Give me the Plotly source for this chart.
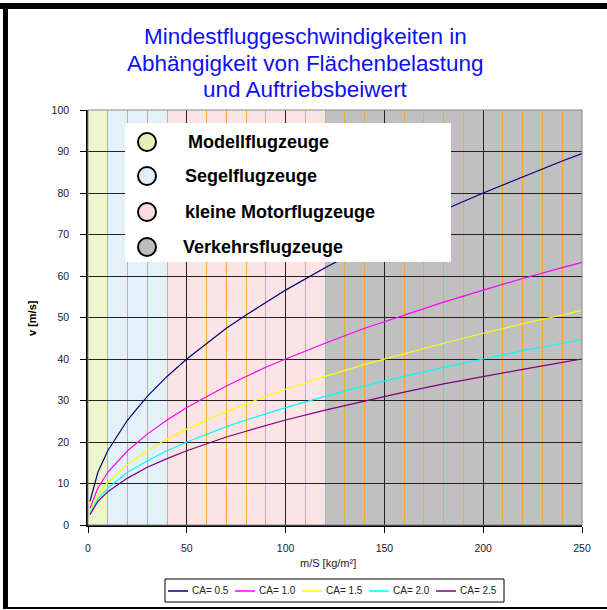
import plotly.graph_objects as go

# ---------------- data ----------------
x_ms = [1, 5, 10, 20, 30, 40, 50, 60, 70, 80, 90, 100, 120, 140, 160, 180, 200, 220, 240, 250]
v_ca05 = [5.7, 12.7, 17.9, 25.3, 31.0, 35.8, 40.0, 43.8, 47.4, 50.6, 53.7, 56.6, 62.0, 67.0, 71.6, 75.9, 80.0, 83.9, 87.7, 89.5]
v_ca10 = [4.0, 8.9, 12.7, 17.9, 21.9, 25.3, 28.3, 31.0, 33.5, 35.8, 38.0, 40.0, 43.8, 47.4, 50.6, 53.7, 56.6, 59.4, 62.0, 63.3]
v_ca15 = [3.3, 7.3, 10.3, 14.6, 17.9, 20.7, 23.1, 25.3, 27.3, 29.2, 31.0, 32.7, 35.8, 38.7, 41.3, 43.8, 46.2, 48.5, 50.6, 51.7]
v_ca20 = [2.8, 6.3, 8.9, 12.7, 15.5, 17.9, 20.0, 21.9, 23.7, 25.3, 26.8, 28.3, 31.0, 33.5, 35.8, 38.0, 40.0, 42.0, 43.8, 44.7]
v_ca25 = [2.5, 5.7, 8.0, 11.3, 13.9, 16.0, 17.9, 19.6, 21.2, 22.6, 24.0, 25.3, 27.7, 29.9, 32.0, 34.0, 35.8, 37.5, 39.2, 40.0]

series_names = ["CA= 0.5", "CA= 1.0", "CA= 1.5", "CA= 2.0", "CA= 2.5"]
series_values = [v_ca05, v_ca10, v_ca15, v_ca20, v_ca25]
series_colors = ["#000080", "#ff00ff", "#ffff00", "#00ffff", "#800080"]

band_names = ["Modellflugzeuge", "Segelflugzeuge", "kleine Motorflugzeuge", "Verkehrsflugzeuge"]
band_start = [0, 10, 40, 120]
band_end = [10, 40, 120, 250]
band_colors = ["#ebf6cc", "#e5f1fa", "#fbe4e4", "#c0c0c0"]
band_marker_colors = ["#e2f4b5", "#e2effa", "#fadcdc", "#bdbdbd"]

title_lines = ["Mindestfluggeschwindigkeiten in",
               "Abhängigkeit von Flächenbelastung",
               "und Auftriebsbeiwert"]
x_title = "m/S [kg/m²]"
y_title = "v [m/s]"
x_ticks = [0, 50, 100, 150, 200, 250]
y_ticks = [0, 10, 20, 30, 40, 50, 60, 70, 80, 90, 100]

# ---------------- layout geometry (pixels) ----------------
W, H = 607, 610
L, R, T, B = 88, 582, 110, 525
FONT = "Arial, Liberation Sans, sans-serif"


def px(xp):
    return (xp - L) / (R - L)


def py(yp):
    return (B - yp) / (B - T)


fig = go.Figure()
for name, vals, col in zip(series_names, series_values, series_colors):
    fig.add_trace(go.Scatter(x=x_ms, y=vals, mode="lines", name=name,
                             line=dict(color=col, width=1.2), showlegend=False))

shapes = []
annotations = []
# background bands
for s, e, c in zip(band_start, band_end, band_colors):
    shapes.append(dict(type="rect", xref="x", yref="paper", x0=s, x1=e, y0=0, y1=1,
                       fillcolor=c, line=dict(width=0), layer="below"))
# plot border (top/right gray)
shapes.append(dict(type="rect", xref="paper", yref="paper", x0=0, x1=1, y0=0, y1=1,
                   line=dict(color="#888888", width=1), fillcolor="rgba(0,0,0,0)", layer="above"))
# inner category legend box
shapes.append(dict(type="rect", xref="paper", yref="paper", x0=px(125), x1=px(451),
                   y0=py(262), y1=py(123), fillcolor="white", line=dict(width=0), layer="above"))
item_y = [142, 176, 212, 247]
text_x = [186, 183, 183, 181]
for i, (nm, mc) in enumerate(zip(band_names, band_marker_colors)):
    cy = item_y[i]
    shapes.append(dict(type="circle", xref="paper", yref="paper",
                       x0=px(147 - 9), x1=px(147 + 9), y0=py(cy + 9), y1=py(cy - 9),
                       fillcolor=mc, line=dict(color="black", width=2), layer="above"))
    annotations.append(dict(text="<b>%s</b>" % nm, xref="paper", yref="paper",
                            x=px(text_x[i]), y=py(cy), xanchor="left", yanchor="middle",
                            showarrow=False, font=dict(family=FONT, size=18, color="black")))

# series legend box at bottom (line samples + labels)
shapes.append(dict(type="rect", xref="paper", yref="paper", x0=px(165), x1=px(504),
                   y0=py(602), y1=py(579), fillcolor="white", line=dict(color="black", width=1),
                   layer="above"))
leg_y = 591
for i, (nm, col) in enumerate(zip(series_names, series_colors)):
    x0 = 168 + 67 * i
    shapes.append(dict(type="line", xref="paper", yref="paper", x0=px(x0), x1=px(x0 + 20),
                       y0=py(leg_y), y1=py(leg_y), line=dict(color=col, width=1.5), layer="above"))
    annotations.append(dict(text=nm, xref="paper", yref="paper", x=px(x0 + 22), y=py(leg_y - 0.5),
                            xanchor="left", yanchor="middle", showarrow=False,
                            font=dict(family=FONT, size=10, color="#222222")))

# outer frame
shapes.append(dict(type="rect", xref="paper", yref="paper", x0=px(0), x1=px(W + 5),
                   y0=py(9), y1=py(3), fillcolor="black", line=dict(width=0), layer="above"))
shapes.append(dict(type="rect", xref="paper", yref="paper", x0=px(3), x1=px(8),
                   y0=py(609), y1=py(3), fillcolor="black", line=dict(width=0), layer="above"))
shapes.append(dict(type="rect", xref="paper", yref="paper", x0=px(3), x1=px(W + 5),
                   y0=py(609), y1=py(607), fillcolor="black", line=dict(width=0), layer="above"))

# title
for line, yc in zip(title_lines, [37, 63, 89]):
    annotations.append(dict(text=line, xref="paper", yref="paper", x=px(305), y=py(yc),
                            xanchor="center", yanchor="middle", showarrow=False,
                            font=dict(family=FONT, size=22.5, color="#1010f0")))

# axis titles
annotations.append(dict(text="<b>%s</b>" % y_title, xref="paper", yref="paper", x=px(32), y=py(318),
                        xanchor="center", yanchor="middle", textangle=-90, showarrow=False,
                        font=dict(family=FONT, size=11, color="black")))
annotations.append(dict(text=x_title, xref="paper", yref="paper", x=px(328), y=py(563),
                        xanchor="center", yanchor="middle", showarrow=False,
                        font=dict(family=FONT, size=11, color="#222222")))

fig.update_layout(
    width=W, height=H,
    margin=dict(l=L, r=W - R, t=T, b=H - B, autoexpand=False),
    paper_bgcolor="white", plot_bgcolor="white",
    shapes=shapes, annotations=annotations,
    showlegend=False,
    xaxis=dict(range=[0, 250], tickvals=x_ticks, ticks="outside", ticklen=6, tickcolor="black",
               tickwidth=1.3, showline=True, linecolor="black", linewidth=1.5,
               showgrid=True, gridcolor="#222222", gridwidth=1.3, zeroline=False,
               minor=dict(dtick=10, tick0=0, showgrid=True, gridcolor="#f2a93b", gridwidth=1.2),
               tickfont=dict(family=FONT, size=10.5, color="#222222"), ticklabelstandoff=7,
               automargin=False, fixedrange=True),
    yaxis=dict(range=[0, 100], tickvals=y_ticks, ticks="outside", ticklen=6, tickcolor="black",
               tickwidth=1.3, showline=True, linecolor="black", linewidth=1.5,
               showgrid=True, gridcolor="#222222", gridwidth=1.3, zeroline=False,
               tickfont=dict(family=FONT, size=10.5, color="#222222"), ticklabelstandoff=9,
               automargin=False, fixedrange=True),
)

fig.write_html("out.html")
